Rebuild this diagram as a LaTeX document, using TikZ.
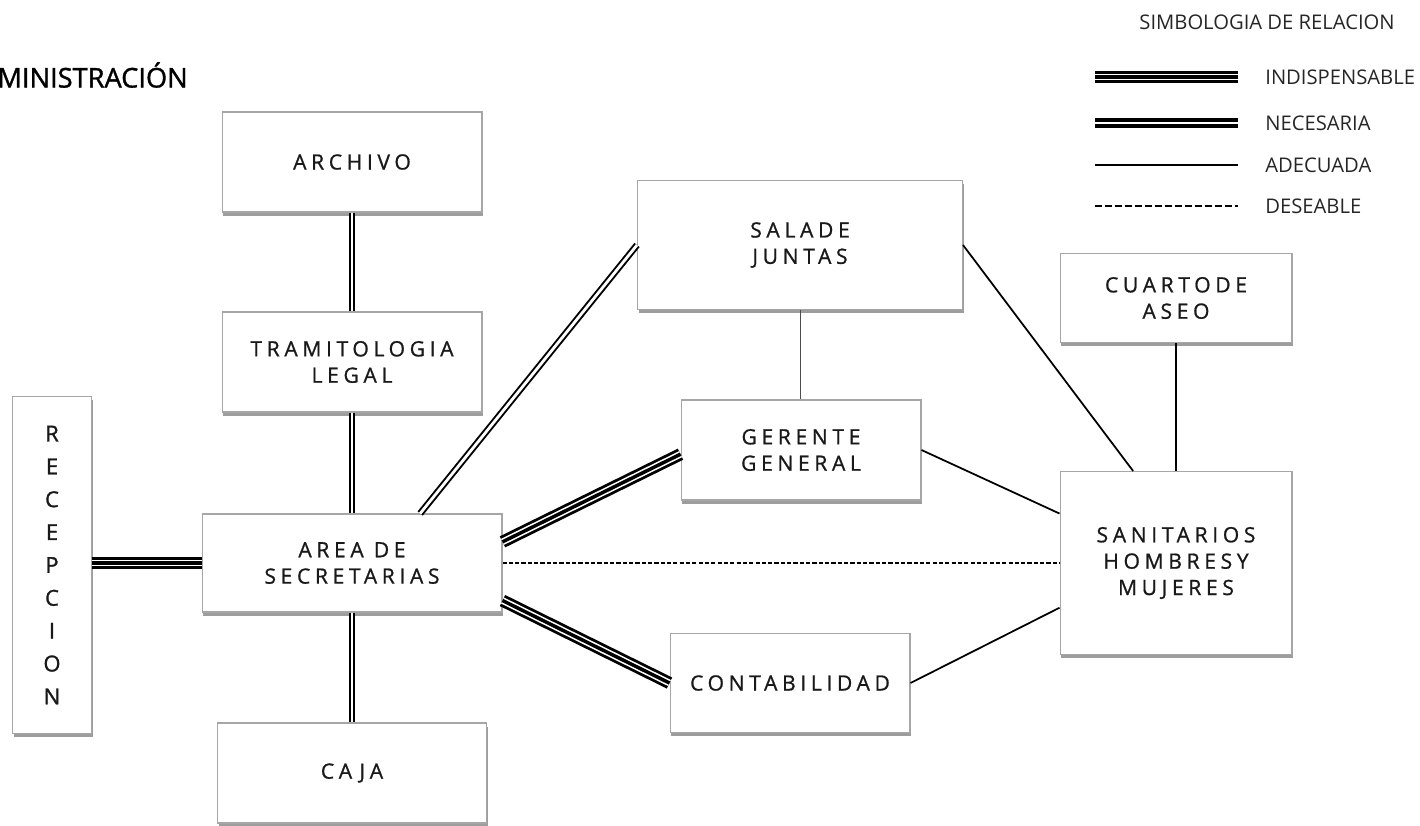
\documentclass[tikz,border=0pt]{standalone}
\usepackage{fontspec}
\setmainfont{Open Sans}
\newfontfamily\boxfont[LetterSpace=22, FakeBold=0.9]{Open Sans}
\newfontfamily\titlefont[FakeBold=1.2]{Open Sans}
\usetikzlibrary{shadows}

\begin{document}
\begin{tikzpicture}[x=0.02cm, y=-0.02cm]
    % ================= estilos =================
    \tikzset{
        % local (recuadro con sombra)
        area/.style={draw=black!35, fill=white, line width=0.6pt, align=center, inner sep=0pt,
            font=\boxfont\fontsize{12}{15}\selectfont, text=black!90,
            drop shadow={shadow xshift=0.6pt, shadow yshift=-2.2pt, fill=black!55, opacity=0.7}},
        % relacion indispensable (tres lineas)
        indisp/.style={line width=7pt, black, postaction={draw=white, line width=3.8pt}, postaction={draw=black, line width=2pt}},
        % relacion necesaria (dos lineas gruesas)
        necesaria/.style={double, line width=2.2pt, double distance=1.6pt},
        % dos lineas delgadas
        doble/.style={double, line width=1.1pt, double distance=1.6pt},
        % relacion adecuada
        adecuada/.style={line width=1pt, black},
        % relacion deseable
        deseable/.style={line width=0.6pt, dash pattern=on 2.4pt off 1.2pt},
        % textos de la simbologia
        leyenda/.style={anchor=west, font=\fontsize{11.5}{13}\selectfont, text=black!85, inner sep=0pt}
    }
    \useasboundingbox (0,0) rectangle (1420,825);

    % ================= titulo =================
    \node[anchor=west, font=\titlefont\fontsize{15.5}{18}\selectfont, inner sep=0pt] (titulo) at (-3,75) {MINISTRACIÓN};

    % ================= locales =================
    \node[area, minimum width=5.2cm, minimum height=2cm] (archivo) at (352,162) {ARCHIVO};
    \node[area, minimum width=5.2cm, minimum height=2cm] (tramite) at (352,362) {TRAMITOLOGIA\\LEGAL};
    \node[area, minimum width=6cm, minimum height=1.96cm] (secret) at (352,563) {AREA DE\\SECRETARIAS};
    \node[area, minimum width=5.38cm, minimum height=2cm] (caja) at (352,773) {CAJA};
    \node[area, minimum width=1.58cm, minimum height=6.74cm, font=\titlefont\fontsize{12.5}{18.7}\selectfont] (recep) at (52,565) {R\\E\\C\\E\\P\\C\\I\\O\\N};
    \node[area, minimum width=6.5cm, minimum height=2.58cm] (sala) at (800,245) {SALADE\\JUNTAS};
    \node[area, minimum width=4.8cm, minimum height=2cm] (gerente) at (801,450) {GERENTE\\GENERAL};
    \node[area, minimum width=4.8cm, minimum height=1.98cm] (conta) at (790,683) {CONTABILIDAD};
    \node[area, minimum width=4.64cm, minimum height=1.78cm] (aseo) at (1176,298) {CUARTODE\\ASEO};
    \node[area, minimum width=4.64cm, minimum height=3.66cm] (sanit) at (1176,563) {SANITARIOS\\HOMBRESY\\MUJERES};

    % ================= relaciones =================
    \draw[doble] (archivo) -- (tramite);
    \draw[doble] (tramite) -- (secret);
    \draw[doble] (secret) -- (caja);
    \draw[doble] (secret.36.6) -- (sala.west);
    \draw[indisp] (recep.east |- secret.west) -- (secret.west);
    \draw[indisp] (secret.8.3) -- (gerente.182);
    \draw[indisp] (secret.-14.9) -- (conta.west);
    \draw[deseable] (secret.east) -- (sanit.west);
    \draw[line width=0.5pt, black!70] (sala) -- (sala |- gerente.north);
    \draw[adecuada] (sala.east) -- (sanit.115.8);
    \draw[adecuada] (gerente.east) -- (sanit.157.5);
    \draw[adecuada] (conta.east) -- (sanit.201);
    \draw[adecuada] (aseo) -- (sanit);

    % ================= simbologia =================
    \node[font=\fontsize{11.5}{13}\selectfont, text=black!85, inner sep=0pt] (simb) at (1267,22) {SIMBOLOGIA DE RELACION};
    \coordinate (s1a) at (1095,77);  \coordinate (s1b) at (1238,77);
    \coordinate (s2a) at (1095,123); \coordinate (s2b) at (1238,123);
    \coordinate (s3a) at (1095,165); \coordinate (s3b) at (1238,165);
    \coordinate (s4a) at (1095,206); \coordinate (s4b) at (1238,206);
    \draw[indisp] (s1a) -- (s1b);
    \draw[necesaria] (s2a) -- (s2b);
    \draw[adecuada] (s3a) -- (s3b);
    \draw[line width=0.9pt, dash pattern=on 3.8pt off 1.9pt] (s4a) -- (s4b);
    \node[leyenda] (l1) at (1265,77) {INDISPENSABLE};
    \node[leyenda] (l2) at (1265,123) {NECESARIA};
    \node[leyenda] (l3) at (1265,165) {ADECUADA};
    \node[leyenda] (l4) at (1265,206) {DESEABLE};
\end{tikzpicture}
\end{document}
